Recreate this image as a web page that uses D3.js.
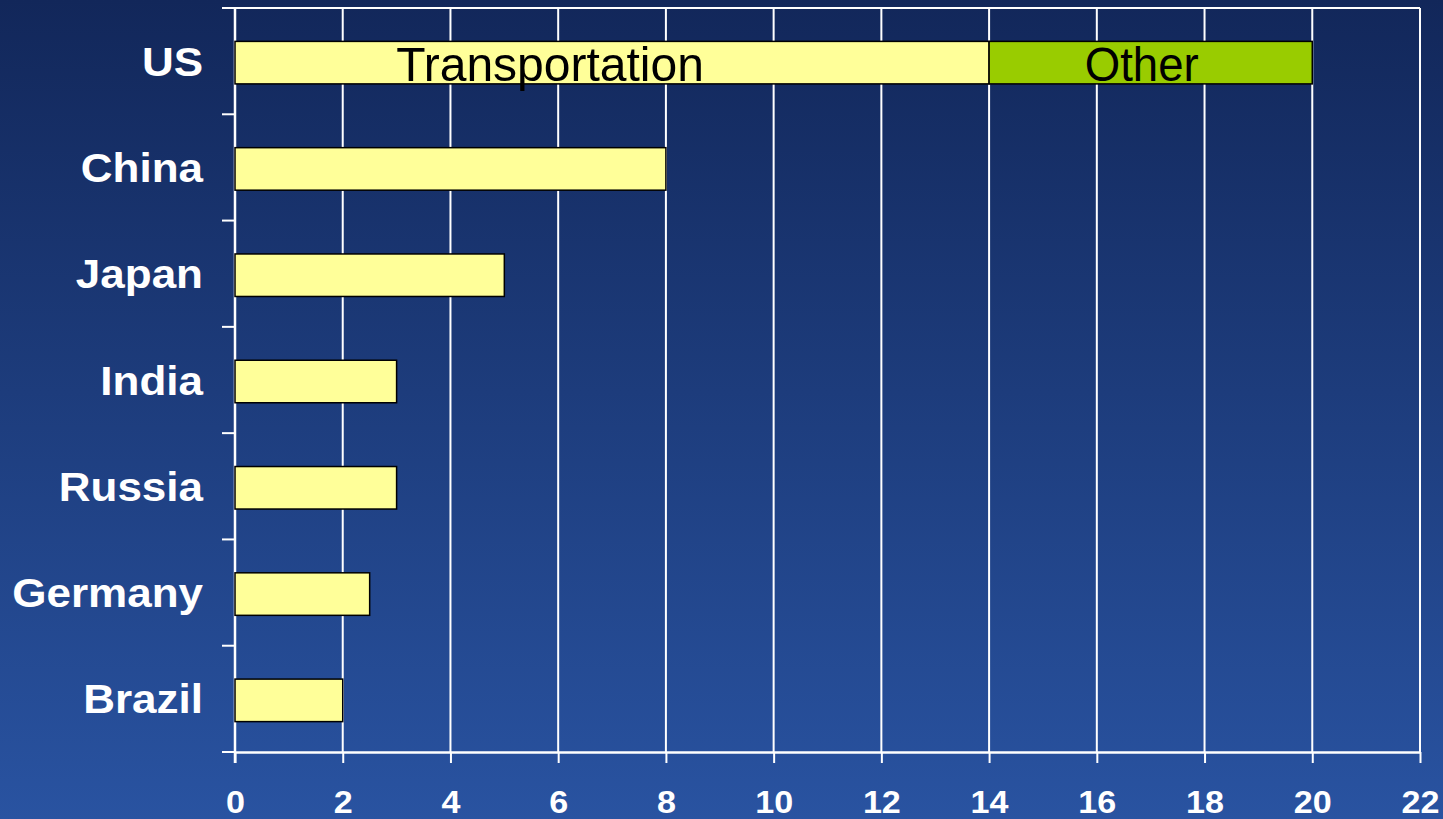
<!DOCTYPE html>
<html>
<head>
<meta charset="utf-8">
<script src="https://cdn.jsdelivr.net/npm/d3@7/dist/d3.min.js"></script>
<style>
  html, body { margin: 0; padding: 0; background: #1d3b7c; }
  svg { display: block; }
</style>
</head>
<body>
<svg id="chart" width="1443" height="819"></svg>
<script>
const categories = ["US", "China", "Japan", "India", "Russia", "Germany", "Brazil"];
const transportation = [14, 8, 5, 3, 3, 2.5, 2];
const other = [6, 0, 0, 0, 0, 0, 0];
const seriesNames = ["Transportation", "Other"];
const seriesColors = ["#ffff99", "#99cc00"];
const xTicks = [0, 2, 4, 6, 8, 10, 12, 14, 16, 18, 20, 22];

(function () {
const W = 1443, H = 819;
const svg = d3.select("#chart");

// background gradient
const defs = svg.append("defs");
const grad = defs.append("linearGradient").attr("id", "bg")
  .attr("x1", 0).attr("y1", 0).attr("x2", 0).attr("y2", 1);
grad.append("stop").attr("offset", "0%").attr("stop-color", "#12275a");
grad.append("stop").attr("offset", "100%").attr("stop-color", "#2953a1");
svg.append("rect").attr("width", W).attr("height", H).attr("fill", "url(#bg)");

const pLeft = 235, pRight = 1420, pTop = 8, pBottom = 752;
const x = d3.scaleLinear().domain([0, 22]).range([pLeft, pRight]);
const y = d3.scaleBand().domain(categories).range([pTop, pBottom])
  .paddingInner(0.6).paddingOuter(0.3);
const yBands = d3.scaleBand().domain(categories).range([pTop, pBottom]).padding(0);

// vertical gridlines
svg.append("g").selectAll("line").data(xTicks).join("line")
  .attr("x1", d => x(d)).attr("x2", d => x(d))
  .attr("y1", pTop).attr("y2", pBottom)
  .attr("stroke", "#ffffff").attr("stroke-width", 2);

// top border
svg.append("line").attr("x1", pLeft - 13).attr("x2", pRight)
  .attr("y1", pTop).attr("y2", pTop)
  .attr("stroke", "#ffffff").attr("stroke-width", 2);

// x axis
const xAxis = svg.append("g").attr("transform", `translate(0,${pBottom})`)
  .call(d3.axisBottom(x).tickValues(xTicks).tickSize(11).tickPadding(28).tickSizeOuter(0));
xAxis.select(".domain").attr("stroke", "#ffffff").attr("stroke-width", 2.5);
xAxis.selectAll(".tick line").attr("stroke", "#ffffff").attr("stroke-width", 2);
xAxis.selectAll(".tick text")
  .attr("fill", "#ffffff")
  .attr("font-family", "Liberation Sans, Arial, sans-serif")
  .attr("font-weight", "bold")
  .attr("font-size", 31)
  .attr("dy", "0.71em")
  .attr("transform", "scale(1.1,1)");

// y axis line + ticks at band boundaries
svg.append("line").attr("x1", pLeft).attr("x2", pLeft).attr("y1", pTop).attr("y2", pBottom + 11)
  .attr("stroke", "#ffffff").attr("stroke-width", 2.5);
const boundaries = categories.map(c => yBands(c)).concat([pBottom]);
svg.append("g").selectAll("line").data(boundaries).join("line")
  .attr("x1", pLeft - 13).attr("x2", pLeft)
  .attr("y1", d => d).attr("y2", d => d)
  .attr("stroke", "#ffffff").attr("stroke-width", 2);

// category labels
svg.append("g").selectAll("text").data(categories).join("text")
  .attr("transform", d => `translate(203,${yBands(d) + yBands.bandwidth() / 2 + 14.5}) scale(1.1,1)`)
  .attr("text-anchor", "end")
  .attr("fill", "#ffffff")
  .attr("font-family", "Liberation Sans, Arial, sans-serif")
  .attr("font-weight", "bold")
  .attr("font-size", 40)
  .text(d => d);

// stacked bars
const rows = categories.map((c, i) => ({ cat: c, values: [transportation[i], other[i]] }));
const segs = [];
rows.forEach(r => {
  let acc = 0;
  r.values.forEach((v, k) => {
    if (v > 0) segs.push({ cat: r.cat, k, x0: acc, x1: acc + v });
    acc += v;
  });
});
const off = 1.5;
svg.append("g").selectAll("rect").data(segs).join("rect")
  .attr("x", d => x(d.x0))
  .attr("y", d => y(d.cat) + off)
  .attr("width", d => x(d.x1) - x(d.x0))
  .attr("height", y.bandwidth())
  .attr("fill", d => seriesColors[d.k])
  .attr("stroke", "#000000")
  .attr("stroke-width", 1.5);

// series labels on US bar
const usSegs = segs.filter(s => s.cat === "US");
const labelShift = [-62, -9];
const labelScale = [0.98, 0.93];
svg.append("g").selectAll("text").data(usSegs).join("text")
  .attr("transform", d => `translate(${(x(d.x0) + x(d.x1)) / 2 + labelShift[d.k]},${y(d.cat) + off + 40}) scale(${labelScale[d.k]},1)`)
  .attr("text-anchor", "middle")
  .attr("fill", "#000000")
  .attr("font-family", "Liberation Sans, Arial, sans-serif")
  .attr("font-size", 49)
  .text(d => seriesNames[d.k]);
})();
</script>
</body>
</html>
